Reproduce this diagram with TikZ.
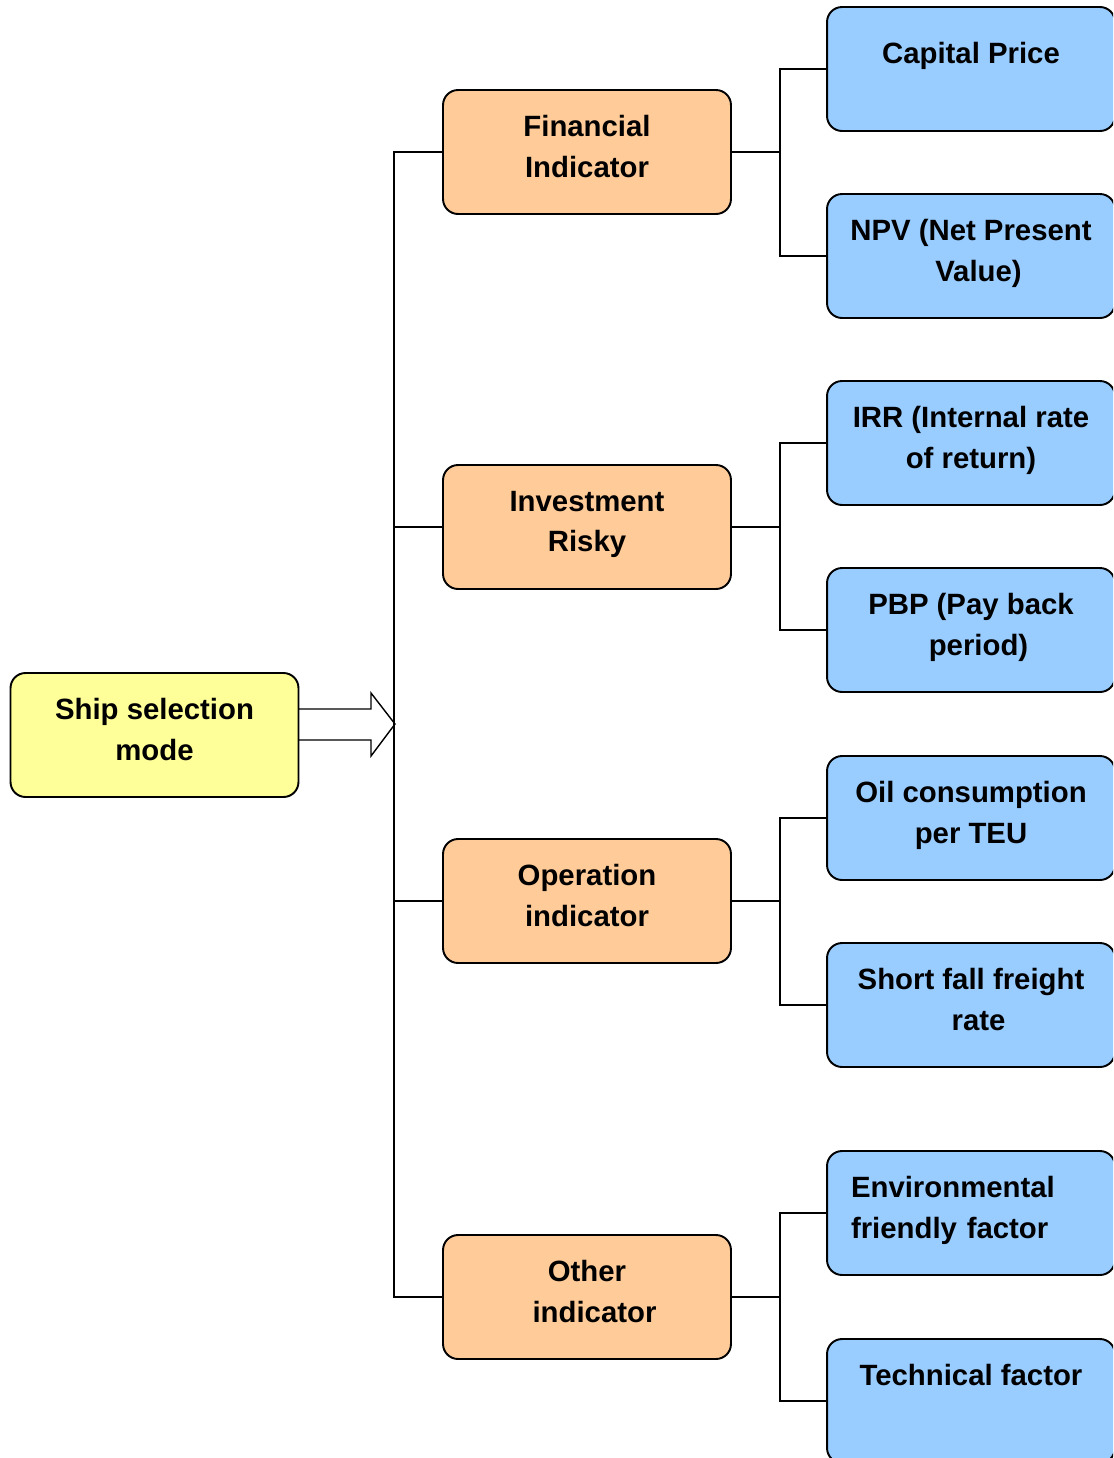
\documentclass[tikz,border=0pt]{standalone}
\usepackage{fontspec}
\setmainfont{Liberation Sans}
\usetikzlibrary{positioning, calc}

\definecolor{rootyellow}{RGB}{255,255,153}
\definecolor{midorange}{RGB}{255,204,153}
\definecolor{leafblue}{RGB}{153,204,255}

\tikzset{
  box/.style={draw, line width=1.1pt, rounded corners=0.3cm,
    minimum width=5.76cm, minimum height=2.48cm, align=center,
    font=\fontsize{16.7}{23}\selectfont\bfseries,
    execute at end node={\vrule width 0pt depth 0.22cm}},
  rootbox/.style={box, fill=rootyellow},
  midbox/.style={box, fill=midorange},
  leafbox/.style={box, fill=leafblue},
  link/.style={line width=0.8pt}
}

\begin{document}
\begin{tikzpicture}[x=0.02cm, y=-0.02cm]
\clip (0,0) rectangle (1113,1458);
% root and block arrow
\coordinate (trunk) at (395,724);
\draw[link, fill=white] (298,709) -- (371,709) -- (371,693) -- (trunk)
  -- (371,756) -- (371,740) -- (298,740);
\node[rootbox] (ship) at (154.5,735) {Ship selection\\mode};

% indicators
\node[midbox] (fin) at (587,152) {Financial\\Indicator};
\node[midbox] (inv) at (587,527) {Investment\\Risky};
\node[midbox] (ope) at (587,901) {Operation\\indicator};
\node[midbox] (oth) at (587,1297) {Other\\\hspace*{0.3cm}indicator};

% factors
\node[leafbox] (cap) at (971,69) {Capital Price\\[-0.4cm]\mbox{}};
\node[leafbox] (npv) at (971,256) {NPV (Net Present\\\hspace*{0.3cm}Value)};
\node[leafbox] (irr) at (971,443) {IRR (Internal rate\\of return)};
\node[leafbox] (pbp) at (971,630) {PBP (Pay back\\\hspace*{0.3cm}period)};
\node[leafbox] (oil) at (971,818) {Oil consumption\\per TEU};
\node[leafbox] (sho) at (971,1005) {Short fall freight\\\hspace*{0.3cm}rate};
\node[leafbox, align=left, text width=4.8cm] (env) at (971,1213) {Environmental\\friendly factor};
\node[leafbox] (tec) at (971,1401) {Technical factor\\[0cm]\mbox{}};

% tree lines
\draw[link] (fin.west) -- ++(-48,0) |- (oth.west);
\draw[link] (inv.west) -- ++(-48,0);
\draw[link] (ope.west) -- ++(-48,0);
\foreach \m/\a/\b in {fin/cap/npv, inv/irr/pbp, ope/oil/sho, oth/env/tec} {
  \draw[link] (\m.east) -- ++(48,0) coordinate (\m j);
  \draw[link] (\a.west) -| (\m j) |- (\b.west);
}
\end{tikzpicture}
\end{document}
